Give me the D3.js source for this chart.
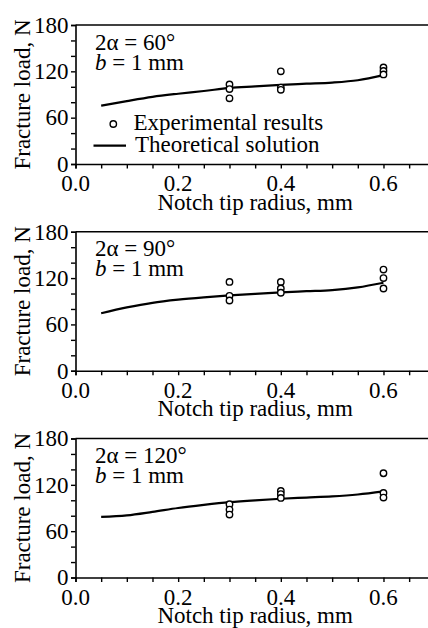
<!DOCTYPE html>
<html>
<head>
<meta charset="utf-8">
<script src="https://cdn.jsdelivr.net/npm/d3@7"></script>
<style>
  html, body { margin: 0; padding: 0; background: #fff; }
  svg { display: block; }
  text { font-family: "Liberation Serif", "Times New Roman", serif; fill: #000; }
</style>
</head>
<body>
<script>
// ---------- data ----------
const xTickValues = [0.0, 0.2, 0.4, 0.6];
const yTickValues = [0, 60, 120, 180];
const angleLabels = ["60", "90", "120"];

const expRadius = [0.3, 0.3, 0.3, 0.4, 0.4, 0.4, 0.6, 0.6, 0.6];
const exp60  = [103, 97, 85, 120, 99, 96, 125, 120.5, 116];
const exp90  = [115, 97, 91, 115, 106.5, 101, 131, 120, 106.5];
const exp120 = [95, 88, 81.5, 112, 108, 103, 135, 109.5, 103.5];

const theoRadius = [0.05, 0.1, 0.15, 0.2, 0.25, 0.3, 0.35, 0.4, 0.45, 0.5, 0.55, 0.6];
const theo60  = [75.5, 81.5, 87, 91, 94.5, 98.5, 100.5, 102.5, 104, 105.5, 108.5, 115];
const theo90  = [74.5, 82, 88, 92, 95, 97.5, 99.5, 101.5, 103, 104.5, 108, 114];
const theo120 = [78.5, 80.5, 85, 90, 94, 97.5, 100, 102, 103.5, 105, 107.5, 111.5];

const legendLabels = ["Experimental results", "Theoretical solution"];

const expSets = [exp60, exp90, exp120];
const theoSets = [theo60, theo90, theo120];

// ---------- layout ----------
const W = 428, H = 628;
const left = 75.5;
const xPer = 513.3;        // px per mm
const panelTops = [25, 231.75, 438.5];
const panelH = 139;
const fs = 23;

const svg = d3.select("body").append("svg")
  .attr("width", W).attr("height", H);

const x = d3.scaleLinear().domain([0, 0.7]).range([left, left + 0.7 * xPer]);

panelTops.forEach((top, i) => {
  const bottom = top + panelH;
  const y = d3.scaleLinear().domain([0, 180]).range([bottom, top]);
  const g = svg.append("g");

  // top frame line
  g.append("line")
    .attr("x1", x(0)).attr("x2", x(0.7))
    .attr("y1", y(180)).attr("y2", y(180))
    .attr("stroke", "#000").attr("stroke-width", 1.6);

  // x axis
  const xAxis = g.append("g").attr("transform", `translate(0,${bottom})`)
    .call(d3.axisBottom(x).tickValues(d3.range(0, 0.701, 0.05)).tickSize(4.5).tickFormat(""));
  xAxis.select(".domain").attr("stroke-width", 1.6);
  xAxis.selectAll(".tick line").attr("stroke-width", 1.4);

  g.selectAll(".xlab").data(xTickValues).enter().append("text")
    .attr("x", d => x(d)).attr("y", bottom + 27)
    .attr("text-anchor", "middle").style("font-size", fs + "px")
    .text(d => d.toFixed(1));

  // y axis
  const yAxis = g.append("g").attr("transform", `translate(${x(0)},0)`)
    .call(d3.axisLeft(y).tickValues(d3.range(0, 181, 20)).tickSize(4.5).tickFormat(""));
  yAxis.select(".domain").attr("stroke-width", 1.6);
  yAxis.selectAll(".tick line").attr("stroke-width", 1.4);

  g.selectAll(".ylab").data(yTickValues).enter().append("text")
    .attr("x", 68.5).attr("y", d => y(d)).attr("dy", "0.34em")
    .attr("text-anchor", "end").style("font-size", fs + "px")
    .text(d => d);

  // axis titles
  g.append("text")
    .attr("transform", `translate(30,${(top + bottom) / 2}) rotate(-90)`)
    .attr("text-anchor", "middle").style("font-size", fs + "px")
    .text("Fracture load, N");
  g.append("text")
    .attr("x", x(0.35)).attr("y", bottom + 45.5)
    .attr("text-anchor", "middle").style("font-size", fs + "px")
    .text("Notch tip radius, mm");

  // annotations
  g.append("text").attr("x", 95).attr("y", top + 24.5).style("font-size", fs + "px")
    .text(`2α = ${angleLabels[i]}°`);
  const t2 = g.append("text").attr("x", 95).attr("y", top + 44.5).style("font-size", fs + "px");
  t2.append("tspan").style("font-style", "italic").text("b");
  t2.append("tspan").text(" = 1 mm");

  // theoretical line
  const line = d3.line()
    .x((d, j) => x(theoRadius[j]))
    .y(d => y(d))
    .curve(d3.curveMonotoneX);
  g.append("path").datum(theoSets[i])
    .attr("d", line).attr("fill", "none")
    .attr("stroke", "#000").attr("stroke-width", 2.2);

  // experimental points
  g.selectAll(".pt").data(expSets[i]).enter().append("circle")
    .attr("cx", (d, j) => x(expRadius[j])).attr("cy", d => y(d))
    .attr("r", 3.2).attr("fill", "#fff")
    .attr("stroke", "#000").attr("stroke-width", 1.4);

  // legend (first panel only)
  if (i === 0) {
    g.append("circle").attr("cx", 113.3).attr("cy", top + 99)
      .attr("r", 3.2).attr("fill", "#fff").attr("stroke", "#000").attr("stroke-width", 1.4);
    g.append("text").attr("x", 133.5).attr("y", top + 104.5).style("font-size", fs + "px")
      .text(legendLabels[0]);
    g.append("line").attr("x1", 93.5).attr("x2", 126).attr("y1", top + 120.7).attr("y2", top + 120.7)
      .attr("stroke", "#000").attr("stroke-width", 2.2);
    g.append("text").attr("x", 135).attr("y", top + 126.5).style("font-size", fs + "px")
      .text(legendLabels[1]);
  }
});
</script>
</body>
</html>
